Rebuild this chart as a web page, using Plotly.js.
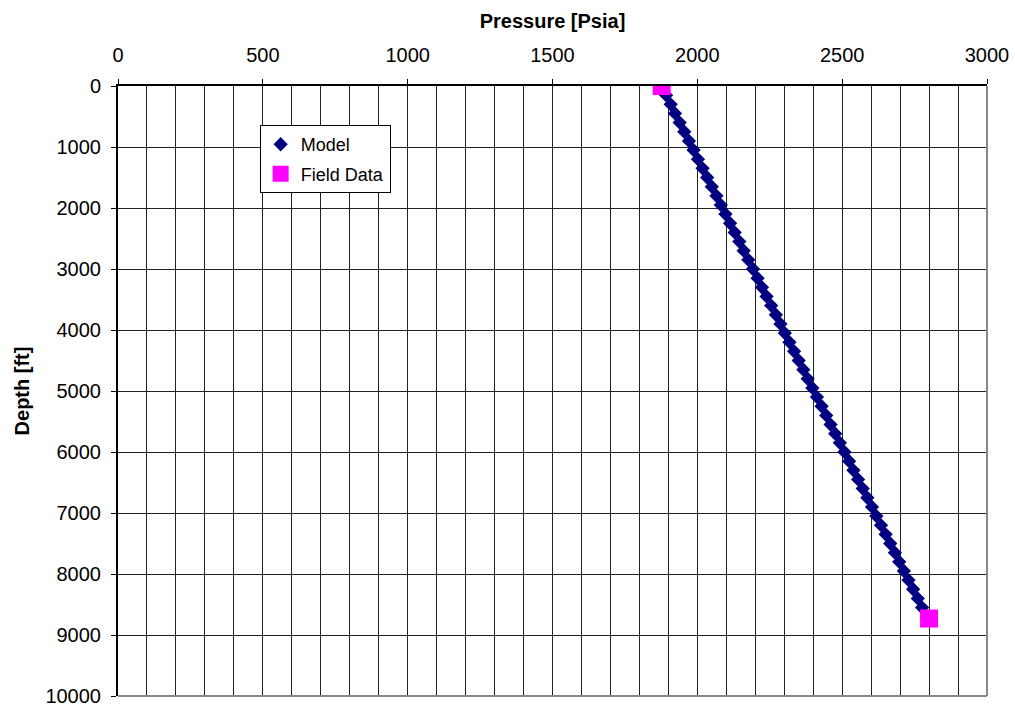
<!DOCTYPE html>
<html>
<head>
<meta charset="utf-8">
<script src="https://cdn.plot.ly/plotly-3.0.1.min.js"></script>
<style>html,body{margin:0;padding:0;background:#fff;}#chart{width:1015px;height:709px;}</style>
</head>
<body>
<div id="chart"></div>
<script>
// Model: depth [ft] and pressure [Psia]
const modelDepth = [0,150,300,450,600,750,900,1050,1200,1350,1500,1650,1800,1950,2100,2250,2400,2550,2700,2850,3000,3150,3300,3450,3600,3750,3900,4050,4200,4350,4500,4650,4800,4950,5100,5250,5400,5550,5700,5850,6000,6150,6300,6450,6600,6750,6900,7050,7200,7350,7500,7650,7800,7950,8100,8250,8400,8550,8700];
const modelPressure = [1876,1892,1908,1923,1939,1955,1971,1987,2002,2018,2034,2050,2066,2081,2097,2113,2129,2145,2160,2176,2192,2208,2223,2239,2255,2271,2287,2302,2318,2334,2350,2366,2381,2397,2413,2429,2445,2460,2476,2492,2508,2524,2539,2555,2571,2587,2603,2618,2634,2650,2666,2682,2697,2713,2729,2745,2761,2776,2792];
// Field data
const fieldDepth = [0, 8730];
const fieldPressure = [1877, 2800];

const font = 'Arial, "Liberation Sans", Helvetica, sans-serif';

const traces = [
  {x: modelPressure, y: modelDepth, name: 'Model', mode: 'markers', type: 'scatter',
   legendgroup: 'a',
   marker: {symbol: 'diamond', size: 11, color: '#000080', line: {width: 0}}},
  {x: fieldPressure, y: fieldDepth, name: 'Field Data', mode: 'markers', type: 'scatter',
   legendgroup: 'b',
   marker: {symbol: 'square', size: 18, color: '#FF00FF', line: {width: 0}}}
];

const layout = {
  width: 1015, height: 709,
  margin: {l: 118, r: 28, t: 86, b: 13},
  paper_bgcolor: '#fff', plot_bgcolor: '#fff',
  font: {family: font, size: 20, color: '#000'},
  showlegend: true,
  legend: {x: 0.163, y: 0.936, xanchor: 'left', yanchor: 'top', bgcolor: '#fff',
           bordercolor: '#000', borderwidth: 1, font: {family: font, size: 18, color: '#000'},
           traceorder: 'grouped', tracegroupgap: 3, itemwidth: 30},
  xaxis: {
    side: 'top', range: [0, 3000], dtick: 500, tick0: 0,
    ticks: 'outside', ticklen: 5, tickcolor: '#000',
    ticklabelstandoff: 9,
    showline: true, linecolor: '#000', linewidth: 2, mirror: false,
    showgrid: true, gridcolor: '#222', gridwidth: 1,
    minor: {dtick: 100, showgrid: true, gridcolor: '#222', gridwidth: 1, ticks: ''},
    zeroline: false, tickformat: 'd',
    tickfont: {family: font, size: 20, color: '#000'},
    title: {text: '<b>Pressure [Psia]</b>', font: {family: font, size: 20, color: '#000'}, standoff: 10}
  },
  yaxis: {
    range: [10000, 0], dtick: 1000, tick0: 0,
    ticks: 'outside', ticklen: 5, tickcolor: '#000',
    ticklabelstandoff: 6,
    showline: true, linecolor: '#000', linewidth: 2,
    showgrid: true, gridcolor: '#222', gridwidth: 1,
    zeroline: false, tickformat: 'd',
    tickfont: {family: font, size: 20, color: '#000'},
    title: {text: '<b>Depth [ft]</b>', font: {family: font, size: 20, color: '#000'}, standoff: 10}
  },
  shapes: [
    {type: 'line', xref: 'paper', yref: 'paper', x0: 1, x1: 1, y0: 0, y1: 1, line: {color: '#888', width: 2}},
    {type: 'line', xref: 'paper', yref: 'paper', x0: 0, x1: 1, y0: 0, y1: 0, line: {color: '#888', width: 2}}
  ]
};

Plotly.newPlot('chart', traces, layout, {displayModeBar: false, responsive: false});
</script>
</body>
</html>
